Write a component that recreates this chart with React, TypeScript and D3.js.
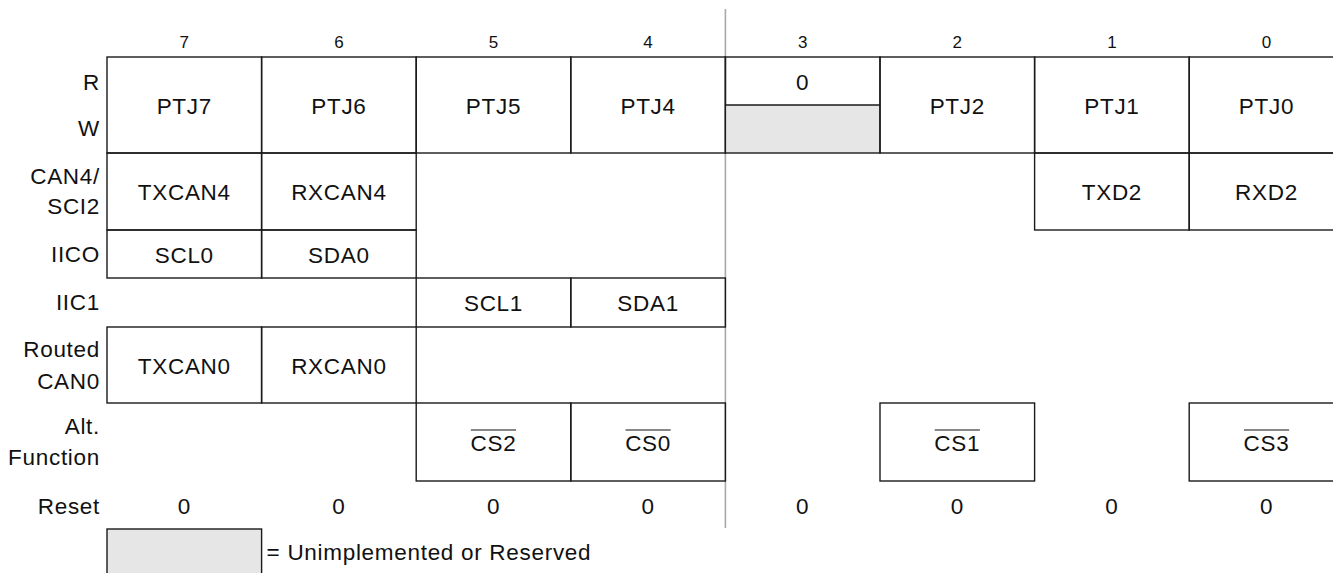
import React from "react";
import * as d3 from "d3";

const bits = [7, 6, 5, 4, 3, 2, 1, 0];
const rowLabels = [["R", "W"], ["CAN4/", "SCI2"], ["IICO"], ["IIC1"], ["Routed", "CAN0"], ["Alt.", "Function"]];
const rwCells = [
  { bit: 7, text: "PTJ7" }, { bit: 6, text: "PTJ6" }, { bit: 5, text: "PTJ5" }, { bit: 4, text: "PTJ4" },
  { bit: 3, text: "0", reserved: true }, { bit: 2, text: "PTJ2" }, { bit: 1, text: "PTJ1" }, { bit: 0, text: "PTJ0" },
];
const can4Cells = [{ bit: 7, text: "TXCAN4" }, { bit: 6, text: "RXCAN4" }, { bit: 1, text: "TXD2" }, { bit: 0, text: "RXD2" }];
const iic0Cells = [{ bit: 7, text: "SCL0" }, { bit: 6, text: "SDA0" }];
const iic1Cells = [{ bit: 5, text: "SCL1" }, { bit: 4, text: "SDA1" }];
const routedCells = [{ bit: 7, text: "TXCAN0" }, { bit: 6, text: "RXCAN0" }];
const altCells = [{ bit: 5, text: "CS2" }, { bit: 4, text: "CS0" }, { bit: 2, text: "CS1" }, { bit: 0, text: "CS3" }];
const resetValues = [0, 0, 0, 0, 0, 0, 0, 0];
const legendText = "= Unimplemented or Reserved";

const W = 1333;
const H = 573;
const FONT = "'Liberation Sans', Arial, Helvetica, sans-serif";
const FS = 22.5;
const LS = 0.7;
const rowBounds = [57, 153, 230, 278, 327, 403, 481];
const lineSpacing = [46, 30, 0, 0, 32, 31];

function measure(t: string, fs: number, ls: number) {
  try {
    const c = document.createElement("canvas");
    const ctx = c.getContext("2d");
    if (ctx) {
      ctx.font = `${fs}px 'Liberation Sans', Arial, sans-serif`;
      return ctx.measureText(t).width + ls * (t.length - 1);
    }
  } catch (e) {}
  return t.length * fs * 0.65;
}

export default function App() {
  const x = d3.scaleBand<number>().domain(bits).range([107, 107 + 8 * 154.6]).padding(0);
  const bw = x.bandwidth();
  const cx = (b: number) => (x(b) as number) + bw / 2;
  const rowTop = (i: number) => rowBounds[i];
  const rowBot = (i: number) => rowBounds[i + 1];
  const stroke = "#1a1a1a";
  const sw = 1.4;
  const dividerX = x(3) as number;
  const resetY = 506;

  const cellRows = [rwCells, can4Cells, iic0Cells, iic1Cells, routedCells, altCells];

  const txt = (props: any, content: any, key: string) => (
    <text key={key} fontFamily={FONT} fontSize={FS} letterSpacing={LS} dominantBaseline="central" fill="#111" {...props}>
      {content}
    </text>
  );

  return (
    <svg width={W} height={H} style={{ position: "absolute", left: 0, top: 0, background: "#fff" }}>
      <rect x={0} y={0} width={W} height={H} fill="#fff" />
      <line x1={dividerX} x2={dividerX} y1={9} y2={528} stroke="#a8a8a8" strokeWidth={1.6} />
      {bits.map((b) => (
        <text key={"b" + b} x={cx(b)} y={42} fontFamily={FONT} fontSize={17} textAnchor="middle" dominantBaseline="central" fill="#111">
          {b}
        </text>
      ))}
      {rowLabels.map((lines, i) => {
        const mid = (rowTop(i) + rowBot(i)) / 2;
        const sp = lineSpacing[i];
        return lines.map((t, j) =>
          txt({ x: 100, y: lines.length === 1 ? mid : mid + (j - 0.5) * sp, textAnchor: "end" }, t, "l" + i + j)
        );
      })}
      {cellRows.map((cells, i) =>
        cells.map((c: any) => {
          const x0 = x(c.bit) as number;
          const y0 = rowTop(i);
          const y1 = rowBot(i);
          const isAlt = i === 5;
          if (c.reserved) {
            const ym = (y0 + y1) / 2;
            return (
              <g key={"c" + i + c.bit}>
                <rect x={x0} y={ym} width={bw} height={y1 - ym} fill="#e6e6e6" />
                <rect x={x0} y={y0} width={bw} height={y1 - y0} fill="none" stroke={stroke} strokeWidth={sw} />
                <line x1={x0} x2={x0 + bw} y1={ym} y2={ym} stroke={stroke} strokeWidth={sw} />
                {txt({ x: cx(c.bit), y: (y0 + ym) / 2 + 1, textAnchor: "middle" }, c.text, "t")}
              </g>
            );
          }
          const ty = (y0 + y1) / 2 + 1;
          const w = isAlt ? measure(c.text, FS, LS) : 0;
          return (
            <g key={"c" + i + c.bit}>
              <rect x={x0} y={y0} width={bw} height={y1 - y0} fill="none" stroke={stroke} strokeWidth={sw} />
              {txt({ x: cx(c.bit), y: ty, textAnchor: "middle" }, c.text, "t")}
              {isAlt && (
                <line x1={cx(c.bit) - w / 2} x2={cx(c.bit) + w / 2} y1={ty - 13} y2={ty - 13} stroke="#111" strokeWidth={1.1} />
              )}
            </g>
          );
        })
      )}
      {txt({ x: 100, y: resetY, textAnchor: "end" }, "Reset", "reset")}
      {resetValues.map((v, k) => txt({ x: cx(bits[k]), y: resetY, textAnchor: "middle" }, v, "r" + k))}
      <rect x={x(7) as number} y={529} width={bw} height={60} fill="#e6e6e6" stroke={stroke} strokeWidth={sw} />
      {txt({ x: (x(7) as number) + bw + 5, y: 552, textAnchor: "start" }, legendText, "legend")}
    </svg>
  );
}
